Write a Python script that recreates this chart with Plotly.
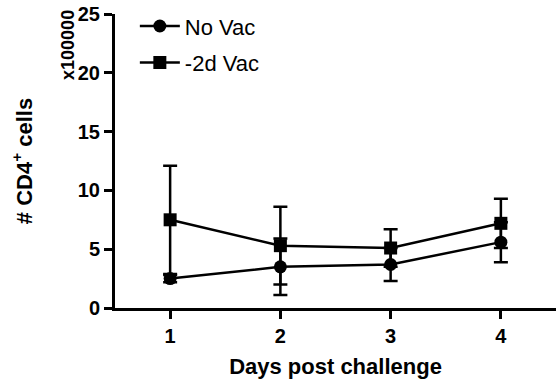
import plotly.graph_objects as go

days = [1, 2, 3, 4]
no_vac = [2.5, 3.5, 3.7, 5.6]
no_vac_err = [0.3, 2.4, 1.4, 1.7]
vac = [7.5, 5.3, 5.1, 7.2]
vac_err = [4.6, 3.3, 1.6, 2.1]
y_ticks = [0, 5, 10, 15, 20, 25]

FONT = "Arial, Liberation Sans, sans-serif"

fig = go.Figure()
fig.add_trace(go.Scatter(
    x=days, y=no_vac, name="No Vac", mode="lines+markers",
    line=dict(color="black", width=2.5),
    marker=dict(symbol="circle", size=13, color="black"),
    error_y=dict(type="data", array=no_vac_err, visible=True,
                 color="black", thickness=2.5, width=7),
    legendgroup="a",
))
fig.add_trace(go.Scatter(
    x=days, y=vac, name="-2d Vac", mode="lines+markers",
    line=dict(color="black", width=2.5),
    marker=dict(symbol="square", size=13, color="black"),
    error_y=dict(type="data", array=vac_err, visible=True,
                 color="black", thickness=2.5, width=7),
    legendgroup="b",
))

fig.update_layout(
    width=556, height=383,
    margin=dict(l=115, r=0, t=14, b=75),
    plot_bgcolor="white", paper_bgcolor="white",
    font=dict(family=FONT, color="black"),
    showlegend=True,
    legend=dict(x=0.045, y=1.03, xanchor="left", yanchor="top",
                font=dict(size=22, family=FONT), bgcolor="rgba(0,0,0,0)",
                tracegroupgap=5, itemwidth=40),
    xaxis=dict(range=[0.5, 4.5], tickvals=days,
               ticktext=[f"<b>{d}</b>" for d in days], showline=True,
               linecolor="black", linewidth=3, ticks="outside",
               ticklen=8, tickwidth=2.5, tickcolor="black",
               showgrid=False, zeroline=False,
               tickfont=dict(size=20, family=FONT),
               title=dict(text="<b>Days post challenge</b>",
                          font=dict(size=22, family=FONT), standoff=13)),
    yaxis=dict(range=[0, 25], tickvals=y_ticks,
               ticktext=[f"<b>{v}</b>" for v in y_ticks], showline=True,
               linecolor="black", linewidth=3, ticks="outside",
               ticklen=8, tickwidth=2.5, tickcolor="black",
               showgrid=False, zeroline=False,
               tickfont=dict(size=20, family=FONT),
               title=dict(text="<b># CD4<sup>+</sup> cells</b>",
                          font=dict(size=22, family=FONT), standoff=40)),
)
fig.add_annotation(text="<b>x100000</b>", xref="paper", yref="paper",
                   x=-0.107, y=1.02, xanchor="center", yanchor="top",
                   textangle=-90, showarrow=False,
                   font=dict(size=18, family=FONT))

fig.write_html("out.html")
